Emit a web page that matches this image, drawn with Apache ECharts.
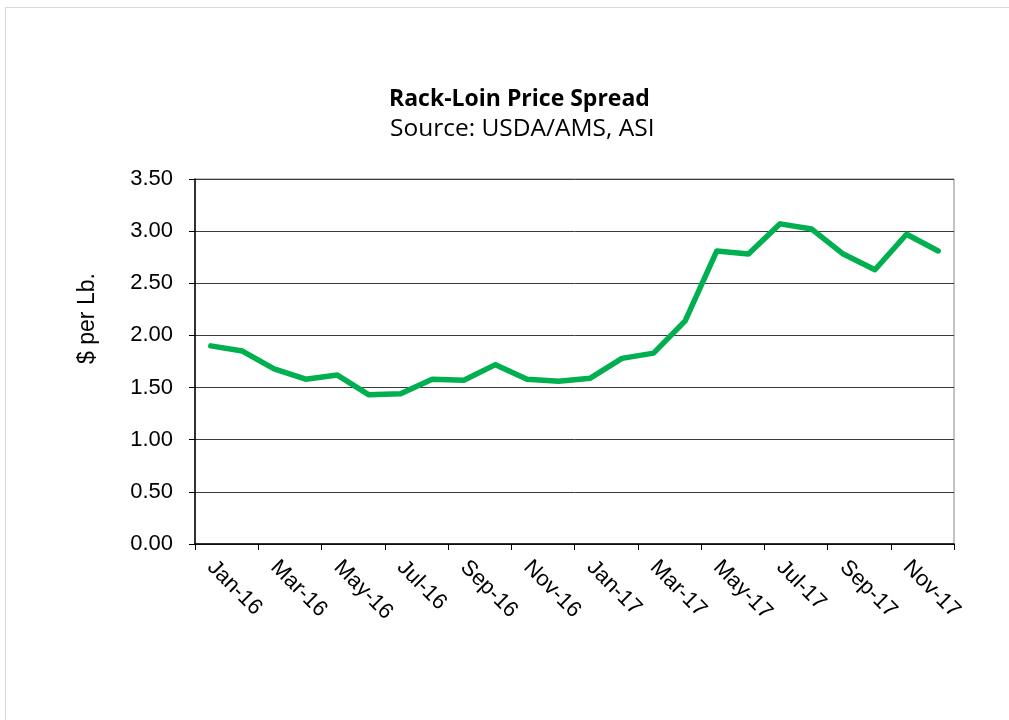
<!DOCTYPE html>
<html>
<head>
<meta charset="utf-8">
<script src="https://cdn.jsdelivr.net/npm/echarts@6/dist/echarts.min.js"></script>
<style>
  html, body { margin: 0; padding: 0; background: #fff; }
  #frame { position: absolute; left: 5px; top: 7px; width: 1100px; height: 800px; border: 1px solid #d9d9d9; }
  #chart { position: absolute; left: 0; top: 0; width: 1009px; height: 720px; }
</style>
</head>
<body>
<div id="frame"></div>
<div id="chart"></div>
<script>
const months = [
  'Jan-16', 'Feb-16', 'Mar-16', 'Apr-16', 'May-16', 'Jun-16',
  'Jul-16', 'Aug-16', 'Sep-16', 'Oct-16', 'Nov-16', 'Dec-16',
  'Jan-17', 'Feb-17', 'Mar-17', 'Apr-17', 'May-17', 'Jun-17',
  'Jul-17', 'Aug-17', 'Sep-17', 'Oct-17', 'Nov-17', 'Dec-17'
]
const spread = [
  1.90, 1.85, 1.68, 1.58, 1.62, 1.43,
  1.44, 1.58, 1.57, 1.72, 1.58, 1.56,
  1.59, 1.78, 1.83, 2.14, 2.81, 2.78,
  3.07, 3.02, 2.78, 2.63, 2.97, 2.81
]

const chart = echarts.init(document.getElementById('chart'), null, { renderer: 'canvas' })

chart.setOption({
  backgroundColor: 'transparent',
  animation: false,
  title: [
    {
      text: 'Rack-Loin Price Spread',
      left: 384,
      top: 83,
      textStyle: { fontFamily: 'Open Sans', fontWeight: 'bold', fontSize: 23, color: '#000' }
    },
    {
      text: 'Source: USDA/AMS, ASI',
      left: 385,
      top: 112,
      textStyle: { fontFamily: 'Open Sans', fontWeight: 'normal', fontSize: 24.5, color: '#000' }
    }
  ],
  grid: {
    left: 195, right: 55, top: 179, bottom: 176,
    show: true, borderColor: '#868686', borderWidth: 1
  },
  xAxis: {
    type: 'category',
    data: months,
    boundaryGap: true,
    axisLine: { lineStyle: { color: '#000', width: 1.5 } },
    axisTick: { show: true, interval: 1, length: 6, lineStyle: { color: '#000' } },
    axisLabel: {
      interval: 1, rotate: -45, margin: 20,
      fontFamily: 'Liberation Sans', fontSize: 22, color: '#000'
    }
  },
  yAxis: {
    type: 'value',
    min: 0, max: 3.5, interval: 0.5,
    name: '$ per Lb.',
    nameLocation: 'middle',
    nameGap: 96,
    nameTextStyle: {
      fontFamily: 'Liberation Sans', fontSize: 23, color: '#000',
      padding: [0, 0, 0, 86]
    },
    axisLine: { show: true, lineStyle: { color: '#000', width: 1.5 } },
    axisTick: { show: true, length: 6, lineStyle: { color: '#000' } },
    axisLabel: {
      margin: 22,
      fontFamily: 'Liberation Sans', fontSize: 22, color: '#000',
      formatter: (v) => v.toFixed(2)
    },
    splitLine: { lineStyle: { color: '#3a3a3a', width: 1 } }
  },
  series: [{
    name: 'Rack-Loin Spread',
    type: 'line',
    data: spread,
    showSymbol: false,
    lineStyle: { color: '#00b050', width: 5.5, join: 'round', cap: 'round' },
    itemStyle: { color: '#00b050' }
  }]
})
</script>
</body>
</html>
